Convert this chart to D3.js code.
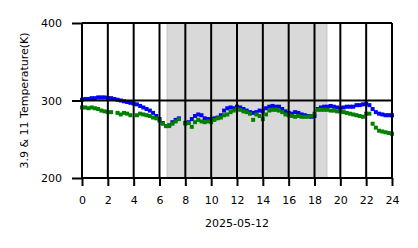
<!DOCTYPE html>
<html>
<head>
<meta charset="utf-8">
<script src="https://cdn.jsdelivr.net/npm/d3@7"></script>
<style>
  body { margin: 0; background: #fff; }
  svg { display: block; font-family: "DejaVu Sans", sans-serif; }
</style>
</head>
<body>
<div id="chart"></div>
<script>
// Hours of the day, sampled every 15 minutes
var hours = d3.range(0, 24.001, 0.25);

// 3.9 micron brightness temperature (K), null = no data
var blueTemps = [
  301, 302, 302, 303, 303, 304, 304, 304,
  303, 303, 302, 301, 300, 299, 298, 297,
  296, 295, 293, 291, 289, 287, 284, 280,
  276, 271, 267, 268, 272, 275, 277, null,
  271, 272, 276, 280, 282, 281, 277, 276,
  276, 277, 278, 281, 287, 290, 291, 290,
  292, 291, 289, 287, 285, 284, 285, 287,
  286, 290, 292, 293, 292, 292, 289, 286,
  284, 283, 285, 284, 282, 281, 280, 279,
  280, 289, 291, 292, 292, 293, 292, 291,
  290, 291, 292, 292, 292, 294, 294, 295,
  296, 294, 289, 285, 283, 282, 281, 281,
  281
];

// 11 micron brightness temperature (K)
var greenTemps = [
  291, 291, 290, 291, 290, 289, 287, 286,
  285, 285, null, 284, 282, 284, 283, 281,
  null, 281, 283, 282, 281, 280, 278, 277,
  274, 270, 267, 267, 270, 273, 276, null,
  270, 271, 266, 272, 275, 273, 272, 273,
  272, 275, 277, 278, 281, 282, 285, 287,
  289, 288, 286, 285, 283, 275, 282, 280,
  276, 282, 287, 288, 288, 287, 285, 282,
  281, 280, 279, 280, 279, 279, 279, 280,
  283, 288, 288, 288, 288, 287, 287, 286,
  286, 285, 284, 283, 282, 281, 280, 279,
  283, 283, 270, 265, 261, 260, 259, 258,
  257
];

// Night (shaded) period in hours
var shadeStart = 6.6, shadeEnd = 18.95;

var xTicks = d3.range(0, 25, 2);
var yTicks = [200, 300, 400];
var dateLabel = "2025-05-12";
var yLabel = "3.9 & 11 Temperature(K)";

var W = 418, H = 248;
var margin = { top: 23, right: 26, bottom: 70, left: 82 };
var width = W - margin.left - margin.right;
var height = H - margin.top - margin.bottom;
var fontSize = 11;

var svg = d3.select("#chart").append("svg")
    .attr("width", W)
    .attr("height", H);

var g = svg.append("g")
    .attr("transform", "translate(" + margin.left + "," + margin.top + ")");

var x = d3.scaleLinear().domain([0, 24]).range([0, width]);
var y = d3.scaleLinear().domain([200, 400]).range([height, 0]);

// shaded region
g.append("rect")
    .attr("x", x(shadeStart))
    .attr("y", 0)
    .attr("width", x(shadeEnd) - x(shadeStart))
    .attr("height", height)
    .attr("fill", "#d9d9d9")
    .attr("stroke", "#cdcdcd")
    .attr("stroke-width", 1.5);

function toPoints(vals) {
  return hours.map(function (h, i) { return { h: h, t: vals[i] }; })
      .filter(function (d) { return d.t != null; });
}

// blue series
var bs = 4;
g.append("g").selectAll("rect")
    .data(toPoints(blueTemps))
    .enter().append("rect")
    .attr("x", function (d) { return x(d.h) - bs / 2; })
    .attr("y", function (d) { return y(d.t) - bs / 2; })
    .attr("width", bs)
    .attr("height", bs)
    .attr("fill", "#0000ff");

// green series
var gs = 4;
g.append("g").selectAll("rect")
    .data(toPoints(greenTemps))
    .enter().append("rect")
    .attr("x", function (d) { return x(d.h) - gs / 2; })
    .attr("y", function (d) { return y(d.t) - gs / 2; })
    .attr("width", gs)
    .attr("height", gs)
    .attr("fill", "#008000");

// grid lines on top
g.append("g").selectAll("line")
    .data(xTicks)
    .enter().append("line")
    .attr("x1", function (d) { return x(d); })
    .attr("x2", function (d) { return x(d); })
    .attr("y1", 0)
    .attr("y2", height)
    .attr("stroke", "#000")
    .attr("stroke-width", 2);

g.append("g").selectAll("line")
    .data(yTicks)
    .enter().append("line")
    .attr("x1", 0)
    .attr("x2", width)
    .attr("y1", function (d) { return y(d); })
    .attr("y2", function (d) { return y(d); })
    .attr("stroke", "#000")
    .attr("stroke-width", 2);

// axes
var xAxis = g.append("g")
    .attr("transform", "translate(0," + height + ")")
    .call(d3.axisBottom(x).tickValues(xTicks).tickSize(8).tickPadding(10));

var yAxis = g.append("g")
    .call(d3.axisLeft(y).tickValues(yTicks).tickSize(10).tickPadding(10));

[xAxis, yAxis].forEach(function (a) {
  a.select(".domain").remove();
  a.selectAll(".tick line").attr("stroke", "#000").attr("stroke-width", 2);
  a.selectAll(".tick text")
      .attr("font-family", "DejaVu Sans, sans-serif")
      .attr("font-size", fontSize)
      .attr("fill", "#000");
});

svg.append("text")
    .attr("x", margin.left + width / 2)
    .attr("y", 227)
    .attr("text-anchor", "middle")
    .attr("font-size", fontSize)
    .text(dateLabel);

svg.append("text")
    .attr("transform", "translate(28," + (margin.top + height / 2) + ") rotate(-90)")
    .attr("text-anchor", "middle")
    .attr("font-size", fontSize)
    .text(yLabel);
</script>
</body>
</html>
